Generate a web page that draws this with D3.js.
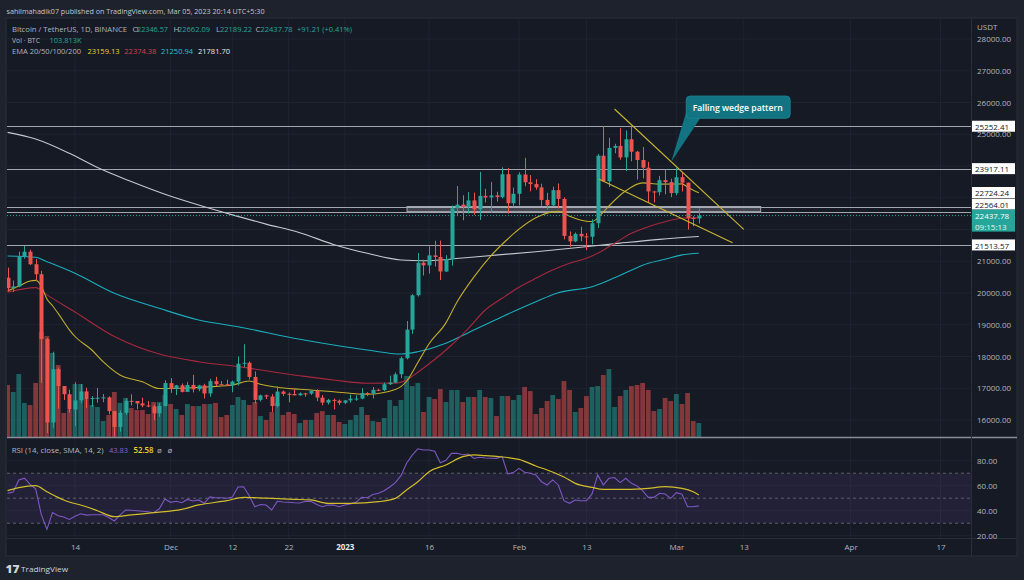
<!DOCTYPE html>
<html>
<head>
<meta charset="utf-8">
<script src="https://cdn.jsdelivr.net/npm/d3@7/dist/d3.min.js"></script>
<style>
html,body{margin:0;padding:0;background:#1e222d;overflow:hidden;}
svg{display:block;}
text{font-family:"Open Sans","Noto Sans","DejaVu Sans",sans-serif;}
</style>
</head>
<body>
<svg id="chart" width="1024" height="580"></svg>
<script>
// ================= DATA =================
const startDate = "2022-11-02", endDate = "2023-03-05";

const open = [20482,20151,20207,21148,21300,20905,20591,18547,15922,17601,17070,16812,16330,16619,16900,16662,16692,16700,16712,16280,15781,16226,16603,16598,16522,16458,16428,16212,16442,
17163,16978,17092,16885,17105,16966,17089,16836,17224,17128,17127,17085,17209,17774,17803,17356,16633,16776,16739,16438,16895,16824,16821,16778,16836,16832,16919,16706,16547,16633,16607,
16542,16616,16672,16675,16850,16831,16950,16943,17127,17178,17440,17944,18846,19930,20954,20871,21185,21134,20677,21071,22667,22783,22707,22916,22633,23060,23009,23074,23022,23742,22826,
23125,23732,23488,23431,23326,22932,22762,23240,22963,21797,21625,21862,21783,21773,22199,24325,23518,24570,24632,24271,24843,24450,24188,23947,23198,23175,23555,23492,
23147,23646,23475,22362,22346.57];

const high = [20800,20393,21302,21480,21365,21069,20700,18587,18150,17655,17070,16955,17190,17134,17015,16751,17011,16820,16746,16291,16300,16680,16812,16600,16700,16600,16483,16528,17249,
17320,17105,17150,17203,17424,17107,17142,17299,17360,17227,17270,17241,18000,18387,17846,17531,16796,16800,16815,17061,16925,16868,16955,16869,16857,16944,16972,16785,16664,16677,16644,
16628,16799,16778,17000,16879,17041,16981,17176,17398,17499,18000,19117,19964,21258,21050,21474,21647,21650,21192,22755,23371,23078,23180,23162,23816,23282,23500,23189,23960,23935,23320,
23800,24255,23715,23587,23442,23158,23350,23452,23011,21939,21906,22090,21891,22322,24380,25250,24893,24700,25192,25121,25250,24476,24600,24132,23218,23689,23888,23600,
23949,23780,23479,22420,22662.09];

const low = [20048,20033,20180,21080,20880,20384,17166,15588,15754,16361,16631,16229,15815,16527,16378,16410,16546,16560,16180,15476,15630,16160,16458,16342,16400,16400,15995,16100,16428,
16855,16787,16868,16878,16867,16906,16678,16733,17058,17092,17071,16873,17087,17660,17275,16527,16584,16660,16256,16398,16759,16559,16774,16766,16733,16788,16592,16465,16488,16333,16470,
16500,16548,16605,16649,16753,16679,16908,16911,17101,17160,17315,17910,18714,19889,20551,20611,20835,20407,20659,20861,22422,22292,22500,22462,22300,22850,22534,22878,22978,22500,22714,
22760,23363,23204,23253,22745,22628,22745,22665,21688,21451,21599,21630,21352,21532,22047,23505,23338,24400,24200,23840,24148,23574,23608,22841,22850,23069,23106,23020,
23079,23195,22000,22100,22189.22];

const close = [20151,20207,21148,21300,20905,20591,18547,15922,17601,17070,16812,16330,16619,16900,16662,16692,16700,16712,16280,15781,16226,16603,16598,16522,16458,16428,16212,16442,17163,
16978,17092,16885,17105,16966,17089,16836,17224,17128,17127,17085,17209,17774,17803,17356,16633,16776,16739,16438,16895,16824,16821,16778,16836,16832,16919,16706,16547,16633,16607,16542,
16616,16672,16675,16850,16831,16950,16943,17127,17178,17440,17944,18846,19930,20954,20871,21185,21134,20677,21071,22667,22783,22707,22916,22633,23060,23009,23074,23022,23742,22826,23125,
23732,23488,23431,23326,22932,22762,23240,22963,21797,21625,21862,21783,21773,22199,24325,23518,24570,24632,24271,24843,24450,24188,23947,23198,23175,23555,23492,23147,
23646,23475,22362,22346.57,22437.78];

// volume in thousands of BTC
const volumeK = [385,333,466,252,237,400,777,747,622,533,178,200,392,392,281,237,222,118,163,333,252,289,215,200,200,170,259,259,311,
244,207,163,244,229,229,244,244,252,148,163,237,296,274,237,259,155,126,185,252,163,185,170,104,126,126,178,192,163,163,111,
96,126,163,222,163,118,111,141,274,229,274,451,377,400,185,296,281,355,259,348,348,259,296,296,348,296,289,155,303,303,274,
311,370,340,170,215,266,311,281,414,348,185,215,303,370,377,459,503,222,303,348,377,385,400,348,192,207,289,266,
318,244,326,118,103.813];

const ema20 = [["2022-11-02",20063],["2022-11-04",20220],["2022-11-06",20378],["2022-11-07",20398],["2022-11-08",20221],["2022-11-09",19810],["2022-11-10",19599],["2022-11-11",19359],["2022-11-13",18841],["2022-11-14",18630],["2022-11-17",18205],["2022-11-19",17837],["2022-11-22",17417],["2022-11-26",17206],["2022-11-29",16990],["2022-12-04",17008],["2022-12-08",17049],["2022-12-12",17102],["2022-12-15",17228],["2022-12-17",17124],["2022-12-20",17030],["2022-12-24",16967],["2022-12-30",16892],["2023-01-05",16809],["2023-01-10",16960],["2023-01-12",17220],["2023-01-14",17810],["2023-01-16",18400],["2023-01-19",19060],["2023-01-21",19725],["2023-01-24",20510],["2023-01-27",21170],["2023-01-30",21700],["2023-02-01",22010],["2023-02-04",22370],["2023-02-08",22570],["2023-02-10",22420],["2023-02-13",22260],["2023-02-14",22250],["2023-02-16",22550],["2023-02-17",22740],["2023-02-20",23220],["2023-02-23",23470],["2023-02-26",23430],["2023-03-01",23432],["2023-03-02",23436],["2023-03-03",23334],["2023-03-05",23159.13]];

const ema50 = [["2022-11-02",20022],["2022-11-07",20168],["2022-11-09",19940],["2022-11-14",19400],["2022-11-21",18630],["2022-11-29",18079],["2022-12-06",17837],["2022-12-13",17680],["2022-12-24",17396],["2022-12-30",17260],["2023-01-05",17156],["2023-01-10",17160],["2023-01-12",17261],["2023-01-14",17505],["2023-01-17",17905],["2023-01-20",18362],["2023-01-23",18888],["2023-01-26",19465],["2023-01-29",19833],["2023-02-01",20180],["2023-02-04",20463],["2023-02-07",20724],["2023-02-10",20935],["2023-02-13",21093],["2023-02-15",21250],["2023-02-18",21565],["2023-02-21",21880],["2023-02-24",22088],["2023-02-27",22246],["2023-03-02",22352],["2023-03-05",22374.38]];

const ema100 = [["2022-11-02",21165],["2022-11-07",21124],["2022-11-09",20986],["2022-11-14",20620],["2022-11-21",19990],["2022-11-29",19517],["2022-12-06",19150],["2022-12-13",18939],["2022-12-24",18542],["2022-12-30",18362],["2023-01-05",18205],["2023-01-11",18079],["2023-01-14",18150],["2023-01-19",18415],["2023-01-23",18750],["2023-01-29",19254],["2023-02-04",19727],["2023-02-08",20010],["2023-02-14",20199],["2023-02-18",20480],["2023-02-21",20720],["2023-02-24",20935],["2023-02-27",21061],["2023-03-02",21200],["2023-03-05",21250.94]];

const ema200 = [["2022-11-02",25060],["2022-11-07",24850],["2022-11-13",24400],["2022-11-18",23950],["2022-11-24",23510],["2022-11-30",23110],["2022-12-06",22770],["2022-12-12",22460],["2022-12-18",22170],["2022-12-24",21900],["2022-12-30",21530],["2023-01-05",21250],["2023-01-11",21040],["2023-01-15",21015],["2023-01-23",21120],["2023-02-04",21300],["2023-02-12",21440],["2023-02-19",21570],["2023-02-26",21690],["2023-03-05",21781.70]];

const rsi = [54,55,64.6,66,61,57.5,37,25,38.5,36,35,33,35.5,37.5,36.5,36.8,36.8,36.8,34.5,31.8,36.5,40.6,40.4,40,39.6,39.2,38.4,41.5,49.4,
46.7,47.5,46.4,49,47.8,48.6,45.9,51,50.4,50.4,50,51,59,59.2,52,43.2,45,44.5,40.6,47.5,47,46.7,46.4,46.2,47.5,47.5,45,43.2,44.5,44.5,43.2,
44.5,45.4,46.7,50.7,50.4,53,54,56,59,62.5,68,78,84.5,89.5,88.6,88.6,87.5,78.4,80.3,85.9,85.9,84.8,85.3,81.9,82.7,82.2,82,81.9,83.2,69.4,70.5,
73.9,70.7,69.9,68.6,63.2,60.6,64.6,60.6,48,45.9,48.6,48,48,53.4,68.6,60.6,65.9,66.5,62.5,65.9,61.9,59.8,56,50.7,50.7,53.9,53.4,49.9,
54.4,53.1,43.2,43.2,43.83];

const rsiSma = [["2022-11-02",56],["2022-11-04",58.4],["2022-11-07",60],["2022-11-09",55.2],["2022-11-12",48.6],["2022-11-16",43.2],["2022-11-18",40],["2022-11-21",35.2],["2022-11-24",36.6],["2022-11-28",38.4],["2022-12-03",41.1],["2022-12-06",44.6],["2022-12-11",48],["2022-12-14",50.7],["2022-12-18",50],["2022-12-23",49.1],["2022-12-26",48.6],["2022-12-29",45.9],["2023-01-02",45.9],["2023-01-07",47.2],["2023-01-10",49.9],["2023-01-12",56.6],["2023-01-14",63.2],["2023-01-16",71.2],["2023-01-19",76.6],["2023-01-22",83.2],["2023-01-24",84.6],["2023-01-26",84],["2023-01-28",83.4],["2023-02-01",81],["2023-02-02",79.5],["2023-02-04",75.8],["2023-02-06",72.6],["2023-02-09",67],["2023-02-11",61.9],["2023-02-14",58.7],["2023-02-16",57.1],["2023-02-20",57.1],["2023-02-24",57.9],["2023-02-27",59.2],["2023-03-02",57.9],["2023-03-04",55.2],["2023-03-05",52.58]];

const levels = [25252.41, 23917.11, 22724.24, 22564.01, 21513.57];
const zone = {from:"2023-01-12T02:00", to:"2023-03-16T00:00", top:22724.24, bottom:22564.01};
const wedge = [
  {d1:"2023-02-18T00:00", p1:25795, d2:"2023-03-13T00:00", p2:22006},
  {d1:"2023-02-15T07:00", p1:23581, d2:"2023-03-11T00:00", p2:21584}
];
const callout = {date:"2023-02-28T02:00", price:24135, text:"Falling wedge pattern"};

const timeTicks = ["2022-11-14","2022-12-01","2022-12-12","2022-12-22","2023-01-01","2023-01-16","2023-02-01","2023-02-13","2023-03-01","2023-03-13","2023-04-01","2023-04-17"];
const timeTickLabels = ["14","Dec","12","22","2023","16","Feb","13","Mar","13","Apr","17"];
const priceTicks = [16000,17000,18000,19000,20000,21000,22000,23000,24000,25000,26000,27000,28000];
const rsiTicks = [20,40,60,80];
const rsiBands = [70,50,30];

// ================= DRAW =================
const svg = d3.select("#chart");
const pD = d3.utcParse("%Y-%m-%d");
const pT = d3.utcParse("%Y-%m-%dT%H:%M");
const days = d3.utcDay.range(pD(startDate), d3.utcDay.offset(pD(endDate), 1));

const L = 7, R = 971, MT = 19, MB = 437, RT = 438, RB = 538, AB = 556, FR = 1017;
const UP = "#26a69a", DN = "#ef5350", BG = "#161a25", GRID = "#1f2330", TXT = "#b2b5be";

const x = d3.scaleUtc().domain([pD("2022-11-14"), pD("2023-04-17")]).range([75, 940.5]);
const y = d3.scaleLinear().domain([16000, 28000]).range([420, 39]);
const yV = d3.scaleLinear().domain([0, 740]).range([437, 337]);
const yR = d3.scaleLinear().domain([20, 80]).range([535.7, 460.7]);

svg.append("rect").attr("width", 1024).attr("height", 580).attr("fill", "#1e222d");
svg.append("rect").attr("x", L - 1).attr("y", MT - 1).attr("width", FR - L + 1).attr("height", AB - MT + 1)
  .attr("fill", BG).attr("stroke", "#2a2e39");

const defs = svg.append("defs");
defs.append("clipPath").attr("id", "cm").append("rect").attr("x", L).attr("y", MT).attr("width", R - L).attr("height", MB - MT);
defs.append("clipPath").attr("id", "cr").append("rect").attr("x", L).attr("y", RT).attr("width", R - L).attr("height", RB - RT);

// grid
const grid = svg.append("g");
grid.selectAll(".vg").data(timeTicks).join("line")
  .attr("x1", d => x(pD(d))).attr("x2", d => x(pD(d))).attr("y1", MT).attr("y2", RB)
  .attr("stroke", GRID).attr("stroke-width", 1);
grid.selectAll(".hg").data(priceTicks).join("line")
  .attr("x1", L).attr("x2", R).attr("y1", d => y(d)).attr("y2", d => y(d))
  .attr("stroke", GRID).attr("stroke-width", 1);
grid.selectAll(".rg").data(rsiTicks).join("line")
  .attr("x1", L).attr("x2", R).attr("y1", d => yR(d)).attr("y2", d => yR(d))
  .attr("stroke", GRID).attr("stroke-width", 1);

// main pane
const main = svg.append("g").attr("clip-path", "url(#cm)");
const isUp = i => close[i] >= open[i];

// volume
main.selectAll(".vol").data(days).join("rect")
  .attr("x", d => x(d) - 2.4).attr("width", 4.8)
  .attr("y", (d, i) => yV(volumeK[i])).attr("height", (d, i) => yV(0) - yV(volumeK[i]))
  .attr("fill", (d, i) => isUp(i) ? "rgba(38,166,154,0.5)" : "rgba(239,83,80,0.5)");

// level lines & zone
main.selectAll(".lvl").data(levels).join("line")
  .attr("x1", L).attr("x2", R).attr("y1", d => Math.round(y(d)) + 0.5).attr("y2", d => Math.round(y(d)) + 0.5)
  .attr("stroke", "#a3a6af").attr("stroke-width", 1.2);
main.append("rect")
  .attr("x", x(pT(zone.from))).attr("width", x(pT(zone.to)) - x(pT(zone.from)))
  .attr("y", y(zone.top)).attr("height", y(zone.bottom) - y(zone.top))
  .attr("fill", "rgba(178,181,190,0.28)").attr("stroke", "#a3a6af").attr("stroke-width", 1);

// EMAs
const lineGen = d3.line().x(d => x(pD(d[0]))).y(d => y(d[1])).curve(d3.curveMonotoneX);
[[ema200, "#c4c7ce"], [ema100, "#19aebd"], [ema50, "#a8283d"], [ema20, "#c2ad2c"]].forEach(([arr, col]) => {
  main.append("path").datum(arr).attr("d", lineGen).attr("fill", "none").attr("stroke", col).attr("stroke-width", 1.1);
});

// candles
const cg = main.append("g");
cg.selectAll(".wick").data(days).join("line")
  .attr("x1", d => Math.round(x(d)) + 0.5).attr("x2", d => Math.round(x(d)) + 0.5)
  .attr("y1", (d, i) => y(high[i])).attr("y2", (d, i) => y(low[i]))
  .attr("stroke", (d, i) => isUp(i) ? UP : DN).attr("stroke-width", 1);
cg.selectAll(".body").data(days).join("rect")
  .attr("x", d => Math.round(x(d)) + 0.5 - 2).attr("width", 4)
  .attr("y", (d, i) => y(Math.max(open[i], close[i])))
  .attr("height", (d, i) => Math.max(1, Math.abs(y(open[i]) - y(close[i]))))
  .attr("fill", (d, i) => isUp(i) ? UP : DN);

// current price dotted line
const last = close[close.length - 1];
main.append("line").attr("x1", L).attr("x2", R).attr("y1", y(last)).attr("y2", y(last))
  .attr("stroke", UP).attr("stroke-width", 1).attr("stroke-dasharray", "1,2");

// wedge
main.selectAll(".wedge").data(wedge).join("line")
  .attr("x1", d => x(pT(d.d1))).attr("y1", d => y(d.p1))
  .attr("x2", d => x(pT(d.d2))).attr("y2", d => y(d.p2))
  .attr("stroke", "#c9b532").attr("stroke-width", 1.1);

// callout
const ax = x(pT(callout.date)), ay = y(callout.price);
const bx = ax + 15, by = ay - 65.7, bw = 104, bh = 22.3;
main.append("path")
  .attr("d", `M${ax},${ay} L${bx},${by + bh - 6} L${bx + 14},${by + bh} Z`)
  .attr("fill", "#127482");
main.append("rect").attr("x", bx).attr("y", by).attr("width", bw).attr("height", bh).attr("rx", 4)
  .attr("fill", "#127482").attr("stroke", "#1b8794").attr("stroke-width", 0.8);
main.append("text").attr("x", bx + 6.5).attr("y", by + bh / 2 + 0.5).attr("dominant-baseline", "central")
  .attr("fill", "#ffffff").attr("font-size", 9).attr("font-weight", 600)
  .attr("textLength", 90).attr("lengthAdjust", "spacingAndGlyphs").text(callout.text);

// separators
svg.append("line").attr("x1", L).attr("x2", FR).attr("y1", MB + 0.5).attr("y2", MB + 0.5).attr("stroke", "#8a8d96").attr("stroke-width", 1.3);
svg.append("line").attr("x1", L).attr("x2", FR).attr("y1", RB + 0.5).attr("y2", RB + 0.5).attr("stroke", "#2a2e39");
svg.append("line").attr("x1", R + 0.5).attr("x2", R + 0.5).attr("y1", MT).attr("y2", AB).attr("stroke", "#2a2e39");

// RSI pane
const rp = svg.append("g").attr("clip-path", "url(#cr)");
rp.append("rect").attr("x", L).attr("width", R - L).attr("y", yR(70)).attr("height", yR(30) - yR(70))
  .attr("fill", "rgba(126,87,194,0.12)");
rp.selectAll(".band").data(rsiBands).join("line")
  .attr("x1", L).attr("x2", R).attr("y1", d => yR(d)).attr("y2", d => yR(d))
  .attr("stroke", "#5d606b").attr("stroke-width", 1).attr("stroke-dasharray", "3,3");
rp.append("path").datum(rsi)
  .attr("d", d3.line().x((d, i) => x(days[i])).y(d => yR(d)))
  .attr("fill", "none").attr("stroke", "#7e57c2").attr("stroke-width", 1.1);
rp.append("path").datum(rsiSma)
  .attr("d", d3.line().x(d => x(pD(d[0]))).y(d => yR(d[1])).curve(d3.curveMonotoneX))
  .attr("fill", "none").attr("stroke", "#d2bd2a").attr("stroke-width", 1.2);

// price label positions (boxes on the axis), used to hide tick labels they cover
const fmt2 = d3.format(".2f");
const labelShift = {"22724.24": -14, "22564.01": -7.5};
const last0 = y(last);
const boxCenters = levels.map(v => y(v) + (labelShift[fmt2(v)] || 0)).concat([last0, last0 + 10.5]);
const visiblePriceTicks = priceTicks.filter(t => boxCenters.every(c => Math.abs(y(t) - c) > 7));

// axes
const pa = svg.append("g").attr("transform", `translate(${R},0)`)
  .call(d3.axisRight(y).tickValues(visiblePriceTicks).tickFormat(fmt2).tickSize(0).tickPadding(6));
pa.select(".domain").remove();
pa.selectAll("text").attr("fill", TXT).attr("font-size", 8).attr("font-family", "Open Sans, Noto Sans, sans-serif");

const ra = svg.append("g").attr("transform", `translate(${R},0)`)
  .call(d3.axisRight(yR).tickValues(rsiTicks).tickFormat(fmt2).tickSize(0).tickPadding(6));
ra.select(".domain").remove();
ra.selectAll("text").attr("fill", TXT).attr("font-size", 8).attr("font-family", "Open Sans, Noto Sans, sans-serif");

const ta = svg.append("g").attr("transform", `translate(0,${RB})`)
  .call(d3.axisBottom(x).tickValues(timeTicks.map(pD)).tickFormat((d, i) => timeTickLabels[i]).tickSize(0).tickPadding(6.5));
ta.select(".domain").remove();
ta.selectAll("text").attr("fill", (d, i) => timeTickLabels[i] === "2023" ? "#e6e8ee" : TXT)
  .attr("font-weight", (d, i) => timeTickLabels[i] === "2023" ? 700 : 400)
  .attr("font-size", 8).attr("font-family", "Open Sans, Noto Sans, sans-serif");

svg.append("text").attr("x", 977).attr("y", 26).attr("dominant-baseline", "central")
  .attr("fill", TXT).attr("font-size", 8).text("USDT");

// price label boxes
const lb = svg.append("g");
levels.forEach(v => {
  const key = fmt2(v);
  const cy = y(v) + (labelShift[key] || 0);
  lb.append("rect").attr("x", 972).attr("y", cy - 5.5).attr("width", 43).attr("height", 11).attr("fill", "#ffffff");
  lb.append("text").attr("x", 975).attr("y", cy + 0.3).attr("dominant-baseline", "central")
    .attr("fill", "#131722").attr("font-size", 8).text(key);
});
lb.append("rect").attr("x", 972).attr("y", last0 - 6).attr("width", 43).attr("height", 22).attr("fill", UP);
lb.append("text").attr("x", 975).attr("y", last0 + 0.3).attr("dominant-baseline", "central").attr("fill", "#ffffff").attr("font-size", 8).text(fmt2(last));
lb.append("text").attr("x", 975).attr("y", last0 + 10.5).attr("dominant-baseline", "central").attr("fill", "#e6f5f3").attr("font-size", 8).text("09:15:13");

// legends
function txt(s, xx, yy, col, tl, extra) {
  const t = svg.append("text").attr("x", xx).attr("y", yy).attr("dominant-baseline", "central")
    .attr("fill", col).attr("font-size", 8).text(s);
  if (tl) t.attr("textLength", tl).attr("lengthAdjust", "spacingAndGlyphs");
  if (extra) extra(t);
  return t;
}
txt("sahilmahadik07 published on TradingView.com, Mar 05, 2023 20:14 UTC+5:30", 6.5, 10, "#c3c6cd", 258);
const oIdx = open.length - 1;
txt("Bitcoin / TetherUS, 1D, BINANCE", 12, 28, TXT, 115);
txt("O", 132.5, 28, TXT); txt(fmt2(open[oIdx]), 137, 28, UP, 31);
txt("H", 173.5, 28, TXT); txt(fmt2(high[oIdx]), 178, 28, UP, 32);
txt("L", 216, 28, TXT); txt(fmt2(low[oIdx]), 220, 28, UP, 32);
txt("C", 255.5, 28, TXT); txt(fmt2(close[oIdx]), 260.5, 28, UP, 32);
txt("+91.21 (+0.41%)", 297, 28, UP, 55);
txt("Vol · BTC", 12, 39, TXT, 28);
txt(d3.format(".3f")(volumeK[oIdx]) + "K", 49.5, 39, UP, 32);
txt("EMA 20/50/100/200", 12, 50.5, TXT, 69);
txt(fmt2(ema20[ema20.length - 1][1]), 87.5, 50.5, "#f0d227", 32);
txt(fmt2(ema50[ema50.length - 1][1]), 124.3, 50.5, "#d8424f", 32);
txt(fmt2(ema100[ema100.length - 1][1]), 161, 50.5, "#22c4d6", 32);
txt(fmt2(ema200[ema200.length - 1][1]), 198, 50.5, "#e6e8ee", 32);

txt("RSI (14, close, SMA, 14, 2)", 11.7, 449, TXT, 92);
txt(fmt2(rsi[rsi.length - 1]), 109, 449, "#8a63cf", 19);
txt(fmt2(rsiSma[rsiSma.length - 1][1]), 133.5, 449, "#f0d227", 20, t => t.attr("font-weight", 600));
txt("ø", 157, 449, TXT); txt("ø", 167.5, 449, TXT);

// footer logo
svg.append("text").attr("x", 5.5).attr("y", 568.5).attr("dominant-baseline", "central")
  .attr("fill", "#d1d4dc").attr("font-size", 11).attr("font-weight", 800).attr("textLength", 14).attr("lengthAdjust", "spacingAndGlyphs").text("17");
txt("TradingView", 21, 568.5, "#d1d4dc", 47);
</script>
</body>
</html>
